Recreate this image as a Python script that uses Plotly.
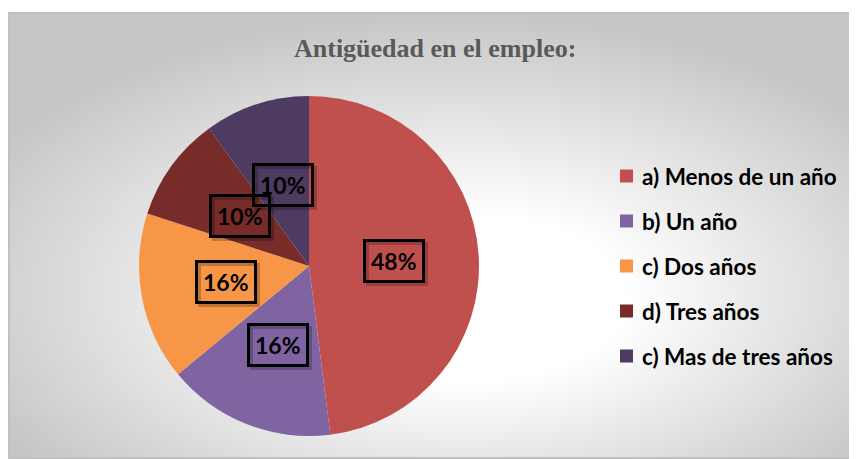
import base64
import plotly.graph_objects as go
import math

# ---- data ----
categories = ["a) Menos de un año", "b) Un año", "c) Dos años", "d) Tres años", "c) Mas de tres años"]
values = [48, 16, 16, 10, 10]
colors = ["#C0504D", "#8064A2", "#F79646", "#772C2A", "#4D3B62"]
title_text = "Antigüedad en el empleo:"

# ---- layout geometry (pixels, page coords minus 8px body margin) ----
W, H = 857, 459
OX, OY = 8, 8
cx, cy, r = 309 - OX, 266 - OY, 170

fig = go.Figure()
fig.add_trace(go.Pie(
    labels=categories, values=values, sort=False, direction="clockwise", rotation=0,
    marker=dict(colors=colors, line=dict(width=0)),
    textinfo="none", hoverinfo="label+percent", showlegend=False,
    domain=dict(x=[(cx - r) / W, (cx + r) / W], y=[1 - (cy + r) / H, 1 - (cy - r) / H]),
))

# percentage labels in boxes, placed at half radius on each slice's mid-angle
total = sum(values)
cum = 0
annotations = []
for v in values:
    theta = math.radians(360 * (cum + v / 2) / total)
    cum += v
    px = cx + 0.5 * r * math.sin(theta)
    py = cy - 0.5 * r * math.cos(theta)
    txt = f"<b>{round(v / total * 100)}%</b>"
    common = dict(x=px / W, y=1 - py / H, xref="paper", yref="paper", showarrow=False,
                  borderwidth=3, borderpad=5, xanchor="center", yanchor="middle")
    annotations.append(dict(text=txt, font=dict(family="Lato", size=23, color="rgba(0,0,0,0)"),
                            bordercolor="rgba(0,0,0,0.22)", xshift=3, yshift=-3, **common))
    annotations.append(dict(text=txt, font=dict(family="Lato", size=23, color="#000000"),
                            bordercolor="#000000", **common))

# legend drawn as squares + text
shapes = []
ly0, lgap = 176 - OY, 45
for i, (cat, col) in enumerate(zip(categories, colors)):
    yy = ly0 + i * lgap
    shapes.append(dict(type="rect", xref="paper", yref="paper",
                       x0=(620 - OX) / W, x1=(633 - OX) / W, y0=1 - (yy + 6.5) / H, y1=1 - (yy - 6.5) / H,
                       fillcolor=col, line=dict(width=0)))
    annotations.append(dict(text="<b>" + cat + "</b>", x=(640 - OX) / W, y=1 - yy / H, xref="paper", yref="paper",
                            showarrow=False, xanchor="left", yanchor="middle",
                            font=dict(family="Lato", size=22.5, color="#000000")))

# title
annotations.append(dict(text="<b>" + title_text + "</b>", x=(435 - OX) / W, y=1 - (48 - OY) / H,
                        xref="paper", yref="paper", showarrow=False, xanchor="center", yanchor="middle",
                        font=dict(family="Liberation Serif", size=26, color="#595959")))

# radial gradient background
bw, bh = 849, 447
svg = (f'<svg xmlns="http://www.w3.org/2000/svg" width="{bw}" height="{bh}">'
       '<defs><radialGradient id="g" cx="52%" cy="62%" r="62%" fx="55%" fy="65%">'
       '<stop offset="0" stop-color="#ffffff"/><stop offset="0.3" stop-color="#ffffff"/>'
       '<stop offset="1" stop-color="#c6c6c6"/></radialGradient></defs>'
       f'<rect x="1" y="1" width="{bw-2}" height="{bh-2}" fill="url(#g)" stroke="#c0c0c0" stroke-width="2"/></svg>')
src = "data:image/svg+xml;base64," + base64.b64encode(svg.encode()).decode()

fig.update_layout(
    width=W, height=H, margin=dict(l=0, r=0, t=0, b=0),
    paper_bgcolor="#ffffff", plot_bgcolor="rgba(0,0,0,0)",
    annotations=annotations, shapes=shapes,
    images=[dict(source=src, xref="paper", yref="paper", x=(8 - OX) / W, y=1 - (12 - OY) / H,
                 sizex=bw / W, sizey=bh / H, sizing="stretch", layer="below",
                 xanchor="left", yanchor="top")],
)
fig.write_html("out.html")
